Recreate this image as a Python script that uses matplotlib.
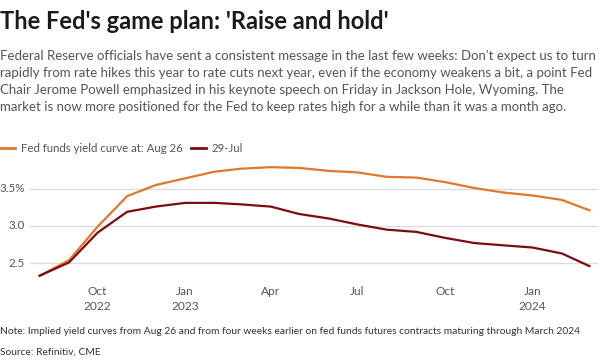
import matplotlib
matplotlib.use("Agg")
import matplotlib.pyplot as plt
import matplotlib.transforms as mtransforms
import pandas as pd

plt.rcParams['font.family'] = ['Lato', 'DejaVu Sans']

# monthly contract dates, Aug 2022 .. Mar 2024
months = ["2022-08", "2022-09", "2022-10", "2022-11", "2022-12",
          "2023-01", "2023-02", "2023-03", "2023-04", "2023-05", "2023-06",
          "2023-07", "2023-08", "2023-09", "2023-10", "2023-11", "2023-12",
          "2024-01", "2024-02", "2024-03"]
aug26 = [2.33, 2.54, 2.99, 3.40, 3.55, 3.64, 3.73, 3.77, 3.79, 3.78, 3.74,
         3.72, 3.66, 3.65, 3.59, 3.51, 3.45, 3.41, 3.35, 3.21]
jul29 = [2.33, 2.51, 2.91, 3.19, 3.26, 3.31, 3.31, 3.29, 3.26, 3.16, 3.10,
         3.02, 2.95, 2.92, 2.84, 2.77, 2.74, 2.71, 2.63, 2.46]

ytick_vals = [2.5, 3.0, 3.5]
ytick_labels = ["2.5", "3.0", "3.5%"]
xtick_dates = ["2022-10", "2023-01", "2023-04", "2023-07", "2023-10", "2024-01"]
xtick_labels = ["Oct\n2022", "Jan\n2023", "Apr", "Jul", "Oct", "Jan\n2024"]

title = "The Fed's game plan: 'Raise and hold'"
subtitle = ("Federal Reserve officials have sent a consistent message in the last few weeks: Don't expect us to turn\n"
            "rapidly from rate hikes this year to rate cuts next year, even if the economy weakens a bit, a point Fed\n"
            "Chair Jerome Powell emphasized in his keynote speech on Friday in Jackson Hole, Wyoming. The\n"
            "market is now more positioned for the Fed to keep rates high for a while than it was a month ago.")
note = "Note: Implied yield curves from Aug 26 and from four weeks earlier on fed funds futures contracts maturing through March 2024"
source = "Source: Refinitiv, CME"

ORANGE = "#e0782a"
DARK = "#7b0d12"
GRID = "#dcdcdc"
TXT = "#555555"

W, H = 600, 363
fig = plt.figure(figsize=(W / 100, H / 100), dpi=100)

# axes box in pixels: x 32..598, y 159..278 (from top)
ax = fig.add_axes([32 / W, (H - 278) / H, 566 / W, 119 / H])

x = pd.to_datetime(months)
ax.plot(x, aug26, color=ORANGE, lw=1.6, label="Fed funds yield curve at: Aug 26")
ax.plot(x, jul29, color=DARK, lw=1.6, label="29-Jul")

ax.set_xlim(pd.Timestamp("2022-07-24"), pd.Timestamp("2024-03-10"))
ax.set_ylim(2.3, 3.9)

for s in ax.spines.values():
    s.set_visible(False)
ax.set_yticks(ytick_vals)
ax.set_yticklabels([])
ax.tick_params(axis='y', length=0)
ax.grid(axis='y', color=GRID, lw=1)
ax.set_axisbelow(True)

# y labels right-aligned near the figure's left edge
tr = mtransforms.blended_transform_factory(fig.transFigure, ax.transData)
for v, lab in zip(ytick_vals, ytick_labels):
    ax.text(25 / W, v, lab, transform=tr, ha='right', va='center',
            fontsize=8.4, color=TXT)
# gridlines also reach back towards the labels
for v in ytick_vals:
    ax.plot([30 / W, 32 / W], [v, v], transform=tr, color=GRID, lw=1, clip_on=False)

ax.set_xticks(pd.to_datetime(xtick_dates))
ax.set_xticklabels(xtick_labels, fontsize=8.6, color=TXT, linespacing=1.4)
ax.tick_params(axis='x', length=0, pad=6)

fig.text(0 / W, 1 - 29 / H, title, fontsize=17, fontweight='bold',
         color="#1a1a1a", ha='left', va='baseline')
fig.text(0 / W, 1 - 50 / H, subtitle, fontsize=9.5, color=TXT,
         ha='left', va='top', linespacing=1.5)

leg = fig.legend(loc='upper left', bbox_to_anchor=(-4 / W, 1 - 138 / H), ncol=2,
                 frameon=False, fontsize=8.2, handlelength=1.3, handletextpad=0.5,
                 columnspacing=0.7, borderaxespad=0)
for t in leg.get_texts():
    t.set_color(TXT)
for h in leg.get_lines():
    h.set_linewidth(2)

fig.text(0 / W, 1 - 334 / H, note, fontsize=7.4, color="#333333",
         ha='left', va='baseline')
fig.text(0 / W, 1 - 355 / H, source, fontsize=7.4, color="#333333",
         ha='left', va='baseline')

fig.savefig("out.png", dpi=100)
